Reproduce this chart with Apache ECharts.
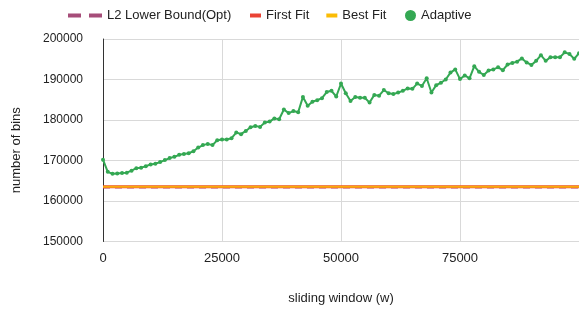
<!DOCTYPE html>
<html>
<head>
<meta charset="utf-8">
<script src="https://cdn.jsdelivr.net/npm/echarts@6/dist/echarts.min.js"></script>
<style>
  html, body { margin: 0; padding: 0; background: #fff; }
  #chart { width: 579px; height: 316px; }
</style>
</head>
<body>
<div id="chart"></div>
<script>
// sliding window sizes, one sample every 1000
var windows = [];
for (var w = 0; w <= 100000; w += 1000) windows.push(w);

// adaptive bin counts
var adaptive = [
    170200, 167200, 166700, 166800, 166900, 167000, 167500, 168100, 168200, 168600,
    169000, 169200, 169600, 170100, 170600, 170900, 171400, 171600, 171800, 172300,
    173200, 173800, 174100, 173800, 175000, 175200, 175200, 175500, 176900, 176500,
    177300, 178200, 178500, 178300, 179400, 179600, 180400, 180200, 182600, 181700,
    182200, 181900, 185700, 183500, 184500, 184900, 185400, 186900, 187200, 185800,
    189000, 186600, 184700, 185700, 185500, 185500, 184300, 186200, 186000, 187400,
    186600, 186400, 186800, 187200, 187800, 187700, 189000, 188400, 190300, 186800,
    188600, 189200, 190000, 191700, 192500, 190100, 191000, 190300, 193300, 191900,
    191100, 192200, 192500, 193000, 192300, 193700, 194100, 194400, 195200, 194200,
    193600, 194600, 196000, 194600, 195500, 195500, 195500, 196700, 196300, 195100,
    196500
];

// flat baselines
var l2Bound = [163300, 163300];
var firstFit = [163500, 163500];
var bestFit = [163500, 163500];
var flatX = [0, 100000];

var yTicks = [150000, 160000, 170000, 180000, 190000, 200000];
var xTicks = [0, 25000, 50000, 75000];

var colors = ['#a64d79', '#ea4335', '#fbbc04', '#34a853'];
var names = ['L2 Lower Bound(Opt)', 'First Fit', 'Best Fit', 'Adaptive'];

function pairs(xs, ys) {
    return xs.map(function (x, i) { return [x, ys[i]]; });
}

var chart = echarts.init(document.getElementById('chart'));
var font = 'Liberation Sans, Arial, sans-serif';
var legendText = { color: '#222', fontSize: 13, fontFamily: font };

var option = {
    animation: false,
    textStyle: { fontFamily: font },
    legend: [{
        left: 63, top: 4,
        itemWidth: 34, itemHeight: 4, itemGap: 18,
        data: [{ name: names[0], icon: 'path://M0,0H13V4H0Z M21,0H34V4H21Z' }],
        textStyle: legendText
    }, {
        left: 245, top: 4,
        itemWidth: 11, itemHeight: 4, itemGap: 17,
        data: [{ name: names[1], icon: 'rect' }, { name: names[2], icon: 'rect' }],
        textStyle: legendText
    }, {
        left: 400, top: 4,
        itemWidth: 11, itemHeight: 11,
        data: [{ name: names[3], icon: 'circle' }],
        textStyle: legendText
    }],
    grid: { left: 103, right: 0, top: 39, bottom: 74.5, containLabel: false },
    xAxis: {
        type: 'value',
        min: 0, max: 100000, interval: 25000,
        name: 'sliding window (w)',
        nameLocation: 'middle',
        nameGap: 50,
        nameTextStyle: { color: '#222', fontSize: 13 },
        axisLine: { show: false },
        axisTick: { show: false },
        axisLabel: {
            color: '#222', fontSize: 13, margin: 10, showMaxLabel: false,
            formatter: function (v) { return String(v); }
        },
        splitLine: { show: true, lineStyle: { color: '#d9d9d9', width: 1 } }
    },
    yAxis: {
        type: 'value',
        min: yTicks[0], max: yTicks[yTicks.length - 1], interval: 10000,
        name: 'number of bins',
        nameLocation: 'middle',
        nameGap: 80,
        nameTextStyle: { color: '#222', fontSize: 13, padding: [0, 20, 0, 0] },
        axisLine: { show: true, lineStyle: { color: '#333', width: 1 } },
        axisTick: { show: false },
        axisLabel: {
            color: '#222', fontSize: 12, margin: 20,
            formatter: function (v) { return String(v); }
        },
        splitLine: { lineStyle: { color: '#d9d9d9', width: 1 } }
    },
    series: [{
        name: names[0],
        type: 'line',
        data: pairs(flatX, l2Bound),
        symbol: 'none',
        lineStyle: { color: colors[0], width: 2, type: [7, 5], opacity: 0.6 },
        itemStyle: { color: colors[0] },
        z: 2
    }, {
        name: names[1],
        type: 'line',
        data: pairs(flatX, firstFit),
        symbol: 'none',
        lineStyle: { color: colors[1], width: 3 },
        itemStyle: { color: colors[1] },
        z: 3
    }, {
        name: names[2],
        type: 'line',
        data: pairs(flatX, bestFit),
        symbol: 'none',
        lineStyle: { color: colors[2], width: 2, opacity: 0.85 },
        itemStyle: { color: colors[2] },
        z: 4
    }, {
        name: names[3],
        type: 'line',
        data: pairs(windows, adaptive),
        symbol: 'circle',
        symbolSize: 4,
        showAllSymbol: true,
        lineStyle: { color: colors[3], width: 2 },
        itemStyle: { color: colors[3] },
        z: 5
    }]
};

chart.setOption(option);
</script>
</body>
</html>
